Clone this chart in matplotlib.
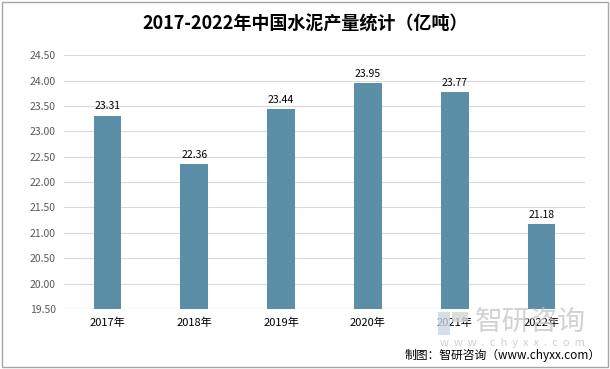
import matplotlib
matplotlib.use("Agg")
import matplotlib.pyplot as plt
from matplotlib.patches import Rectangle

plt.rcParams['font.family'] = ['Noto Sans CJK SC', 'DejaVu Sans']

years = ['2017年', '2018年', '2019年', '2020年', '2021年', '2022年']
values = [23.31, 22.36, 23.44, 23.95, 23.77, 21.18]
yticks = [19.5, 20.0, 20.5, 21.0, 21.5, 22.0, 22.5, 23.0, 23.5, 24.0, 24.5]

W, H = 610, 369
fig = plt.figure(figsize=(6.1, 3.69), dpi=100)
ax = fig.add_axes([0.105, 0.1626, 0.854, 0.688])

x = list(range(len(years)))
ax.bar(x, values, width=0.32, color='#5b8fa8', zorder=3)
for xi, v in zip(x, values):
    ax.text(xi, v + 0.08, f'{v:.2f}', ha='center', va='bottom', fontsize=7.5, color='#000000')

ax.set_ylim(19.5, 24.5)
ax.set_xlim(-0.5, len(years) - 0.5)
ax.set_yticks(yticks)
ax.set_yticklabels([f'{t:.2f}' for t in yticks], fontsize=7.5, color='#595959')
ax.set_xticks(x)
ax.set_xticklabels(years, fontsize=8, color='#000000')
ax.tick_params(axis='both', length=0, pad=6)
ax.grid(axis='y', color='#d9d9d9', linewidth=0.8, zorder=0)
for s in ax.spines.values():
    s.set_visible(False)
ax.axhline(19.5, color='#d9d9d9', linewidth=0.8, zorder=1)

fig.text(0.5, 0.935, '2017-2022年中国水泥产量统计（亿吨）', ha='center', va='center',
         fontsize=13, fontweight='bold', color='#000000')

# watermark (logo + text)
def fx(px):
    return px / W
def fy(py):
    return 1 - py / H
fig.patches.append(Rectangle((fx(438), fy(335)), fx(12), 23 / H, transform=fig.transFigure,
                             facecolor='#c9d6e3', edgecolor='none', alpha=0.8, zorder=0))
fig.patches.append(Rectangle((fx(452), fy(322)), fx(16), 10 / H, transform=fig.transFigure,
                             facecolor='#d5d5d5', edgecolor='none', alpha=0.8, zorder=0))
fig.text(fx(530), fy(322), '智研咨询', ha='center', va='center', fontsize=20,
         color='#c4c4c4', alpha=0.75, zorder=0)
fig.text(fx(512), fy(343), 'w  w  w  .  c  h  y  x  x  .  c  o  m', ha='center', va='center',
         fontsize=8, color='#c4c4c4', alpha=0.8, zorder=0)

fig.text(0.985, fy(355), '制图：智研咨询（www.chyxx.com）', ha='right', va='center', fontsize=8.5, color='#000000')

fig.patches.append(Rectangle((0.004, 0.005), 0.992, 0.99, transform=fig.transFigure,
                             fill=False, edgecolor='#a6a6a6', linewidth=1.0))

fig.savefig('out.png', dpi=100)
